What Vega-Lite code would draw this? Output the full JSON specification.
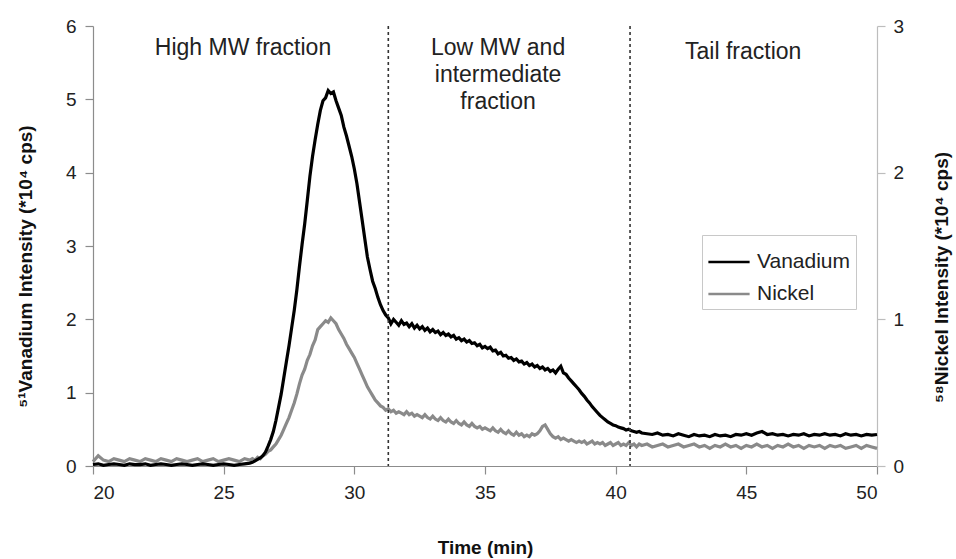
{
 "$schema": "https://vega.github.io/schema/vega-lite/v6.json",
 "width": 784,
 "height": 440,
 "autosize": {"type": "none"},
 "padding": {"left": 93, "top": 26, "right": 79, "bottom": 93},
 "background": "white",
 "config": {
  "font": "Liberation Sans",
  "view": {"stroke": null},
  "axis": {"grid": false, "domainColor": "#8c8c8c", "tickColor": "#8c8c8c", "labelColor": "#222222", "titleColor": "#111111", "labelFontSize": 19, "titleFontSize": 19, "titleFontWeight": "bold", "tickSize": 8, "labelPadding": 9, "domainWidth": 1.2, "tickWidth": 1.2},
  "legend": {"orient": "none", "legendX": 609, "legendY": 209, "direction": "vertical", "symbolType": "stroke", "symbolSize": 1700, "symbolStrokeWidth": 2.4, "labelFontSize": 21, "labelColor": "#222222", "strokeColor": "#c8c8c8", "padding": 5, "rowPadding": -10, "labelOffset": 6, "fillColor": "white"}
 },
 "datasets": {
  "trace": [
   {"t":20.0,"V":0.02,"N":0.03},{"t":20.2,"V":0.03,"N":0.07},{"t":20.4,"V":0.01,"N":0.04},{"t":20.6,"V":0.02,"N":0.03},{"t":20.8,"V":0.03,"N":0.05},
   {"t":21.0,"V":0.02,"N":0.04},{"t":21.2,"V":0.01,"N":0.03},{"t":21.4,"V":0.03,"N":0.05},{"t":21.6,"V":0.02,"N":0.04},{"t":21.8,"V":0.02,"N":0.03},
   {"t":22.0,"V":0.03,"N":0.05},{"t":22.2,"V":0.01,"N":0.04},{"t":22.4,"V":0.02,"N":0.03},{"t":22.6,"V":0.03,"N":0.05},{"t":22.8,"V":0.02,"N":0.04},
   {"t":23.0,"V":0.01,"N":0.03},{"t":23.2,"V":0.02,"N":0.05},{"t":23.4,"V":0.03,"N":0.04},{"t":23.6,"V":0.02,"N":0.03},{"t":23.8,"V":0.01,"N":0.04},
   {"t":24.0,"V":0.02,"N":0.05},{"t":24.2,"V":0.03,"N":0.03},{"t":24.4,"V":0.02,"N":0.04},{"t":24.6,"V":0.01,"N":0.05},{"t":24.8,"V":0.02,"N":0.03},
   {"t":25.0,"V":0.03,"N":0.04},{"t":25.2,"V":0.02,"N":0.05},{"t":25.4,"V":0.01,"N":0.04},{"t":25.6,"V":0.02,"N":0.03},{"t":25.8,"V":0.03,"N":0.05},
   {"t":26.0,"V":0.04,"N":0.04},{"t":26.1,"V":0.05,"N":0.05},{"t":26.2,"V":0.07,"N":0.04},{"t":26.3,"V":0.09,"N":0.06},{"t":26.4,"V":0.11,"N":0.05},
   {"t":26.5,"V":0.14,"N":0.07},{"t":26.6,"V":0.19,"N":0.08},{"t":26.7,"V":0.27,"N":0.10},{"t":26.8,"V":0.36,"N":0.11},{"t":26.9,"V":0.47,"N":0.13},
   {"t":27.0,"V":0.62,"N":0.15},{"t":27.1,"V":0.80,"N":0.18},{"t":27.2,"V":0.98,"N":0.21},{"t":27.3,"V":1.20,"N":0.25},{"t":27.4,"V":1.42,"N":0.29},
   {"t":27.5,"V":1.64,"N":0.33},{"t":27.6,"V":1.88,"N":0.38},{"t":27.7,"V":2.12,"N":0.43},{"t":27.8,"V":2.40,"N":0.49},{"t":27.9,"V":2.72,"N":0.56},
   {"t":28.0,"V":3.02,"N":0.62},{"t":28.1,"V":3.30,"N":0.66},{"t":28.2,"V":3.62,"N":0.72},{"t":28.3,"V":3.95,"N":0.76},{"t":28.4,"V":4.22,"N":0.82},
   {"t":28.5,"V":4.45,"N":0.86},{"t":28.6,"V":4.66,"N":0.93},{"t":28.7,"V":4.85,"N":0.95},{"t":28.8,"V":4.98,"N":0.97},{"t":28.9,"V":5.02,"N":0.99},
   {"t":29.0,"V":5.12,"N":0.98},{"t":29.1,"V":5.08,"N":1.01},{"t":29.2,"V":5.10,"N":0.99},{"t":29.3,"V":4.98,"N":0.97},{"t":29.4,"V":4.88,"N":0.93},
   {"t":29.5,"V":4.78,"N":0.90},{"t":29.6,"V":4.62,"N":0.87},{"t":29.7,"V":4.50,"N":0.83},{"t":29.8,"V":4.36,"N":0.80},{"t":29.9,"V":4.22,"N":0.77},
   {"t":30.0,"V":4.05,"N":0.74},{"t":30.1,"V":3.85,"N":0.70},{"t":30.2,"V":3.60,"N":0.66},{"t":30.3,"V":3.35,"N":0.62},{"t":30.4,"V":3.10,"N":0.58},
   {"t":30.5,"V":2.85,"N":0.54},{"t":30.6,"V":2.68,"N":0.51},{"t":30.7,"V":2.52,"N":0.48},{"t":30.8,"V":2.42,"N":0.45},{"t":30.9,"V":2.30,"N":0.43},
   {"t":31.0,"V":2.20,"N":0.41},{"t":31.1,"V":2.12,"N":0.40},{"t":31.2,"V":2.06,"N":0.38},{"t":31.3,"V":2.02,"N":0.39},{"t":31.4,"V":1.94,"N":0.37},
   {"t":31.5,"V":2.00,"N":0.38},{"t":31.6,"V":1.96,"N":0.36},{"t":31.7,"V":1.92,"N":0.37},{"t":31.8,"V":1.98,"N":0.36},{"t":31.9,"V":1.93,"N":0.35},
   {"t":32.0,"V":1.95,"N":0.37},{"t":32.1,"V":1.90,"N":0.35},{"t":32.2,"V":1.94,"N":0.36},{"t":32.3,"V":1.88,"N":0.34},{"t":32.4,"V":1.92,"N":0.35},
   {"t":32.5,"V":1.87,"N":0.34},{"t":32.6,"V":1.90,"N":0.33},{"t":32.7,"V":1.85,"N":0.35},{"t":32.8,"V":1.88,"N":0.33},{"t":32.9,"V":1.83,"N":0.32},
   {"t":33.0,"V":1.86,"N":0.34},{"t":33.1,"V":1.82,"N":0.32},{"t":33.2,"V":1.84,"N":0.31},{"t":33.3,"V":1.79,"N":0.33},{"t":33.4,"V":1.82,"N":0.31},
   {"t":33.5,"V":1.78,"N":0.30},{"t":33.6,"V":1.80,"N":0.32},{"t":33.7,"V":1.76,"N":0.30},{"t":33.8,"V":1.78,"N":0.29},{"t":33.9,"V":1.73,"N":0.31},
   {"t":34.0,"V":1.75,"N":0.29},{"t":34.1,"V":1.71,"N":0.28},{"t":34.2,"V":1.73,"N":0.30},{"t":34.3,"V":1.69,"N":0.28},{"t":34.4,"V":1.71,"N":0.27},
   {"t":34.5,"V":1.67,"N":0.29},{"t":34.6,"V":1.68,"N":0.27},{"t":34.7,"V":1.64,"N":0.26},{"t":34.8,"V":1.66,"N":0.27},{"t":34.9,"V":1.61,"N":0.25},
   {"t":35.0,"V":1.63,"N":0.26},{"t":35.1,"V":1.60,"N":0.25},{"t":35.2,"V":1.62,"N":0.24},{"t":35.3,"V":1.57,"N":0.26},{"t":35.4,"V":1.58,"N":0.24},
   {"t":35.5,"V":1.53,"N":0.23},{"t":35.6,"V":1.55,"N":0.25},{"t":35.7,"V":1.50,"N":0.23},{"t":35.8,"V":1.51,"N":0.22},{"t":35.9,"V":1.47,"N":0.24},
   {"t":36.0,"V":1.48,"N":0.22},{"t":36.1,"V":1.44,"N":0.21},{"t":36.2,"V":1.46,"N":0.23},{"t":36.3,"V":1.42,"N":0.21},{"t":36.4,"V":1.43,"N":0.22},
   {"t":36.5,"V":1.39,"N":0.20},{"t":36.6,"V":1.41,"N":0.21},{"t":36.7,"V":1.37,"N":0.20},{"t":36.8,"V":1.39,"N":0.22},{"t":36.9,"V":1.35,"N":0.21},
   {"t":37.0,"V":1.37,"N":0.22},{"t":37.1,"V":1.33,"N":0.24},{"t":37.2,"V":1.35,"N":0.27},{"t":37.3,"V":1.31,"N":0.28},{"t":37.4,"V":1.33,"N":0.25},
   {"t":37.5,"V":1.29,"N":0.22},{"t":37.6,"V":1.31,"N":0.20},{"t":37.7,"V":1.27,"N":0.19},{"t":37.8,"V":1.32,"N":0.20},{"t":37.9,"V":1.36,"N":0.18},
   {"t":38.0,"V":1.27,"N":0.19},{"t":38.1,"V":1.25,"N":0.18},{"t":38.2,"V":1.20,"N":0.17},{"t":38.3,"V":1.16,"N":0.18},{"t":38.4,"V":1.12,"N":0.17},
   {"t":38.5,"V":1.08,"N":0.16},{"t":38.6,"V":1.04,"N":0.17},{"t":38.7,"V":0.99,"N":0.16},{"t":38.8,"V":0.95,"N":0.17},{"t":38.9,"V":0.90,"N":0.15},
   {"t":39.0,"V":0.86,"N":0.16},{"t":39.1,"V":0.81,"N":0.17},{"t":39.2,"V":0.77,"N":0.15},{"t":39.3,"V":0.73,"N":0.16},{"t":39.4,"V":0.69,"N":0.15},
   {"t":39.5,"V":0.66,"N":0.16},{"t":39.6,"V":0.63,"N":0.14},{"t":39.7,"V":0.60,"N":0.15},{"t":39.8,"V":0.58,"N":0.16},{"t":39.9,"V":0.56,"N":0.14},
   {"t":40.0,"V":0.55,"N":0.15},{"t":40.1,"V":0.53,"N":0.16},{"t":40.2,"V":0.52,"N":0.14},{"t":40.3,"V":0.51,"N":0.15},{"t":40.4,"V":0.49,"N":0.14},
   {"t":40.5,"V":0.50,"N":0.16},{"t":40.6,"V":0.48,"N":0.14},{"t":40.7,"V":0.47,"N":0.15},{"t":40.8,"V":0.46,"N":0.13},{"t":40.9,"V":0.47,"N":0.15},
   {"t":41.0,"V":0.45,"N":0.14},{"t":41.2,"V":0.44,"N":0.15},{"t":41.4,"V":0.43,"N":0.13},{"t":41.6,"V":0.45,"N":0.14},{"t":41.8,"V":0.42,"N":0.15},
   {"t":42.0,"V":0.43,"N":0.13},{"t":42.2,"V":0.41,"N":0.14},{"t":42.4,"V":0.44,"N":0.15},{"t":42.6,"V":0.42,"N":0.13},{"t":42.8,"V":0.40,"N":0.14},
   {"t":43.0,"V":0.43,"N":0.15},{"t":43.2,"V":0.41,"N":0.13},{"t":43.4,"V":0.42,"N":0.14},{"t":43.6,"V":0.40,"N":0.12},{"t":43.8,"V":0.43,"N":0.14},
   {"t":44.0,"V":0.41,"N":0.13},{"t":44.2,"V":0.42,"N":0.15},{"t":44.4,"V":0.40,"N":0.13},{"t":44.6,"V":0.43,"N":0.14},{"t":44.8,"V":0.42,"N":0.12},
   {"t":45.0,"V":0.44,"N":0.14},{"t":45.2,"V":0.42,"N":0.13},{"t":45.4,"V":0.45,"N":0.15},{"t":45.6,"V":0.47,"N":0.13},{"t":45.8,"V":0.43,"N":0.14},
   {"t":46.0,"V":0.44,"N":0.12},{"t":46.2,"V":0.42,"N":0.14},{"t":46.4,"V":0.43,"N":0.13},{"t":46.6,"V":0.41,"N":0.15},{"t":46.8,"V":0.43,"N":0.13},
   {"t":47.0,"V":0.42,"N":0.14},{"t":47.2,"V":0.44,"N":0.12},{"t":47.4,"V":0.41,"N":0.14},{"t":47.6,"V":0.43,"N":0.13},{"t":47.8,"V":0.42,"N":0.14},
   {"t":48.0,"V":0.44,"N":0.12},{"t":48.2,"V":0.42,"N":0.14},{"t":48.4,"V":0.43,"N":0.13},{"t":48.6,"V":0.41,"N":0.14},{"t":48.8,"V":0.44,"N":0.12},
   {"t":49.0,"V":0.42,"N":0.13},{"t":49.2,"V":0.43,"N":0.14},{"t":49.4,"V":0.41,"N":0.12},{"t":49.6,"V":0.43,"N":0.14},{"t":49.8,"V":0.42,"N":0.13},
   {"t":50.0,"V":0.43,"N":0.12}
  ],
  "notes": [
   {"label":"High MW fraction","t":25.74,"V":5.70},
   {"label":"Low MW and","t":35.5,"V":5.70},
   {"label":"intermediate","t":35.5,"V":5.33},
   {"label":"fraction","t":35.5,"V":4.97},
   {"label":"Tail fraction","t":44.88,"V":5.65}
  ],
  "cuts": [{"t":31.3},{"t":40.55}]
 },
 "encoding": {
  "x": {"field": "t", "type": "quantitative", "title": "Time (min)", "scale": {"domain": [20, 50], "nice": false}, "axis": {"values": [20, 25, 30, 35, 40, 45, 50], "titlePadding": 36}}
 },
 "layer": [
  {
   "data": {"name": "trace"},
   "mark": {"type": "line", "strokeWidth": 3.2},
   "encoding": {
    "y": {"field": "N", "type": "quantitative", "title": "⁵⁸Nickel Intensity (*10⁴ cps)", "scale": {"domain": [0, 3], "nice": false}, "axis": {"orient": "right", "values": [0, 1, 2, 3], "titleAngle": -90, "titlePadding": 48, "titleY": 251, "domainColor": "#bdbdbd", "tickColor": "#bdbdbd", "labelPadding": 8}},
    "color": {"datum": "Nickel", "type": "nominal", "scale": {"domain": ["Vanadium", "Nickel"], "range": ["#000000", "#8a8a8a"]}, "legend": {"title": null}}
   }
  },
  {
   "encoding": {
    "y": {"field": "V", "type": "quantitative", "title": "⁵¹Vanadium Intensity (*10⁴ cps)", "scale": {"domain": [0, 6], "nice": false}, "axis": {"orient": "left", "values": [0, 1, 2, 3, 4, 5, 6], "titlePadding": 30, "titleY": 240}}
   },
   "layer": [
    {
     "data": {"name": "trace"},
     "mark": {"type": "line", "strokeWidth": 3.2},
     "encoding": {
      "color": {"datum": "Vanadium", "type": "nominal", "scale": {"domain": ["Vanadium", "Nickel"], "range": ["#000000", "#8a8a8a"]}, "legend": {"title": null}}
     }
    },
    {
     "data": {"name": "notes"},
     "mark": {"type": "text", "fontSize": 23, "color": "#222222", "baseline": "middle", "align": "center"},
     "encoding": {"text": {"field": "label"}}
    }
   ]
  },
  {
   "data": {"name": "cuts"},
   "mark": {"type": "rule", "strokeDash": [3, 3], "color": "#333333", "strokeWidth": 1.6},
   "encoding": {}
  }
 ],
 "resolve": {"scale": {"y": "independent"}}
}
